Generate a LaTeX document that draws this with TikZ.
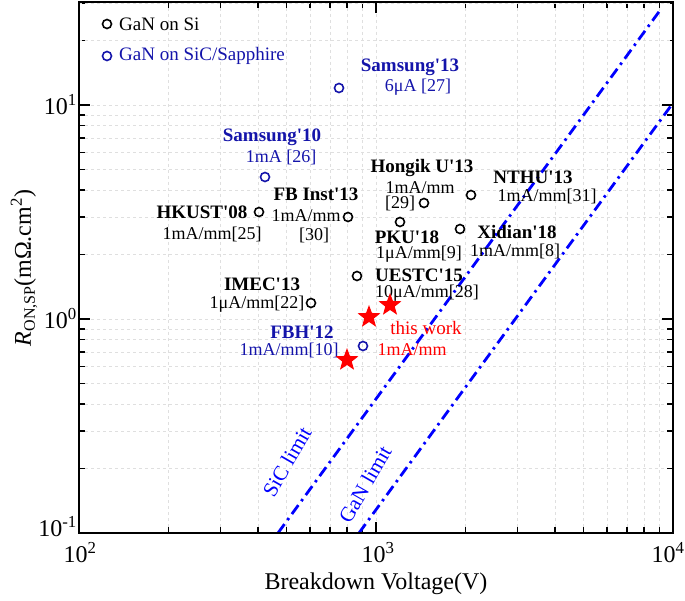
\documentclass[tikz,border=0pt]{standalone}
\usepackage{fontspec}
\setmainfont{Liberation Serif}
\usetikzlibrary{shapes.geometric}
\definecolor{dblue}{RGB}{20,20,170}
\newcommand{\q}{\textquotesingle}
\begin{document}
\begin{tikzpicture}[x=1pt,y=-1pt,
  pt/.style={circle,draw,line width=1.6pt,inner sep=0pt,minimum size=9pt},
  bpt/.style={pt,draw=dblue},
  kpt/.style={pt,draw=black},
  lab/.style={font=\fontsize{19}{19}\selectfont\bfseries,inner sep=0pt},
  sub/.style={font=\fontsize{18}{18}\selectfont,inner sep=0pt},
  staru/.style={star,star points=5,star point ratio=2.4,fill=red,draw=none,inner sep=0pt,minimum size=24pt},
  lim/.style={blue,line width=2.8pt,dash pattern=on 11pt off 5pt on 2.5pt off 5pt},
  grd/.style={gray!25,dashed,line width=0.5pt},
  tk/.style={line width=1.5pt},
  axl/.style={font=\fontsize{24}{24}\selectfont}]
\useasboundingbox (0,0) rectangle (685,601);
% grid
\foreach \d in {0,1}{\foreach \k in {2,...,9}{
  \draw[grd] ({79+297*\d+297*log10(\k)},2) -- ({79+297*\d+297*log10(\k)},533);
  \draw[tk] ({79+297*\d+297*log10(\k)},533) -- ({79+297*\d+297*log10(\k)},527);
  \draw[tk] ({79+297*\d+297*log10(\k)},2) -- ({79+297*\d+297*log10(\k)},8);
}}
\draw[grd] (376,2) -- (376,533);
\foreach \d in {0,1}{\foreach \k in {2,...,9}{
  \draw[grd] (79,{533-214*\d-214*log10(\k)}) -- (673,{533-214*\d-214*log10(\k)});
  \draw[tk] (79,{533-214*\d-214*log10(\k)}) -- (85,{533-214*\d-214*log10(\k)});
  \draw[tk] (673,{533-214*\d-214*log10(\k)}) -- (667,{533-214*\d-214*log10(\k)});
}}
\foreach \k in {2,3}{
  \draw[tk] (79,{533-428-214*log10(\k)}) -- (85,{533-428-214*log10(\k)});
  \draw[tk] (673,{533-428-214*log10(\k)}) -- (667,{533-428-214*log10(\k)});
  \draw[grd] (79,{533-428-214*log10(\k)}) -- (673,{533-428-214*log10(\k)});}
\draw[grd] (79,319) -- (673,319);
\draw[grd] (79,105) -- (673,105);
% major ticks
\draw[tk] (376,533) -- (376,522); \draw[tk] (376,2) -- (376,13);
\foreach \y in {319,105}{\draw[tk] (79,\y) -- (90,\y); \draw[tk] (673,\y) -- (662,\y);}
% limits
\coordinate (s1) at (278,533); \coordinate (s2) at (661,9);
\coordinate (g1) at (359,533); \coordinate (g2) at (673,103);
\draw[lim] (s1) -- (s2);
\draw[lim] (g1) -- (g2);
\node[blue,rotate=60,font=\fontsize{21}{21}\selectfont,inner sep=0pt] (sl) at (287,462) {SiC limit};
\node[blue,rotate=60,font=\fontsize{21}{21}\selectfont,inner sep=0pt] (gl) at (365,484) {GaN limit};
% frame
\draw[line width=2.4pt] (79,2) rectangle (673,533);
% tick labels
\node[anchor=east,axl,inner sep=1pt] (y1) at (78,105) {10\textsuperscript{1}};
\node[anchor=east,axl,inner sep=1pt] (y0) at (78,319) {10\textsuperscript{0}};
\node[anchor=east,axl,inner sep=1pt] (ym) at (78,527) {10\textsuperscript{-1}};
\node[axl] (x2) at (80,553) {10\textsuperscript{2}};
\node[axl] (x3) at (378,553) {10\textsuperscript{3}};
\node[axl] (x4) at (668,553) {10\textsuperscript{4}};
\node[axl] (xl) at (376,584) {Breakdown Voltage(V)};
\node[rotate=90,axl] (yl) at (24,268) {\textit{R}\raisebox{-4pt}{\fontsize{16}{16}\selectfont ON,SP}(mΩ.cm\textsuperscript{2})};
% legend
\node[kpt] (lk) at (107,24) {};
\node[anchor=west,font=\fontsize{19}{19}\selectfont,inner sep=0pt] (lkt) at (119,24) {GaN on Si};
\node[bpt] (lb) at (107,56) {};
\node[anchor=west,font=\fontsize{19}{19}\selectfont,dblue,inner sep=0pt] (lbt) at (119,56) {GaN on SiC/Sapphire};
% blue points
\node[bpt] (p1) at (339,88) {};
\node[lab,dblue] (t1) at (410,67) {Samsung\q13};
\node[sub,dblue] (u1) at (418,87) {6μA [27]};
\node[bpt] (p2) at (265,177) {};
\node[lab,dblue] (t2) at (272,137) {Samsung\q10};
\node[sub,dblue] (u2) at (281,157) {1mA [26]};
\node[bpt] (p3) at (363,346) {};
\node[lab,dblue] (t3) at (302,332) {FBH\q12};
\node[sub,dblue] (u3) at (289,350) {1mA/mm[10]};
% black points
\node[kpt] (p4) at (259,212) {};
\node[lab] (t4) at (202,212) {HKUST\q08};
\node[sub] (u4) at (212,234) {1mA/mm[25]};
\node[kpt] (p5) at (348,217) {};
\node[lab] (t5) at (316,194) {FB Inst\q13};
\node[sub] (u5) at (306,216) {1mA/mm};
\node[sub] (v5) at (314,235) {[30]};
\node[kpt] (p6) at (311,303) {};
\node[lab] (t6) at (262,284) {IMEC\q13};
\node[sub] (u6) at (257,304) {1μA/mm[22]};
\node[kpt] (p7) at (357,276) {};
\node[lab] (t7) at (419,275) {UESTC\q15};
\node[sub] (u7) at (427,293) {10μA/mm[28]};
\node[kpt] (p8) at (400,222) {};
\node[lab] (t8) at (407,237) {PKU\q18};
\node[sub] (u8) at (419,254) {1μA/mm[9]};
\node[kpt] (p9) at (424,203) {};
\node[lab] (t9) at (422,168) {Hongik U\q13};
\node[sub] (u9) at (420,188) {1mA/mm};
\node[sub] (v9) at (400,203) {[29]};
\node[kpt] (p10) at (471,195) {};
\node[lab] (t10) at (533,177) {NTHU\q13};
\node[sub] (u10) at (547,196) {1mA/mm[31]};
\node[kpt] (p11) at (460,229) {};
\node[lab] (t11) at (517,232) {Xidian\q18};
\node[sub] (u11) at (515,251) {1mA/mm[8]};
% this work
\node[staru] (s1p) at (347,360) {};
\node[staru] (s2p) at (369,317) {};
\node[staru] (s3p) at (390,305) {};
\node[sub,red,font=\fontsize{19}{19}\selectfont] (tw) at (426,328) {this work};
\node[sub,red] (tw2) at (412,350) {1mA/mm};
\end{tikzpicture}
\end{document}
